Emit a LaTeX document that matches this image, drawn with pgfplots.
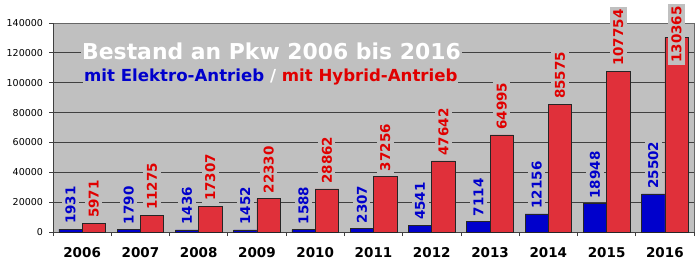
\documentclass[border=0pt]{standalone}
\usepackage{fontspec}
\setmainfont{DejaVu Sans}
\usepackage{pgfplots}
\pgfplotsset{compat=1.18}
\usepackage{pgfplotstable}
\definecolor{bg}{HTML}{C0C0C0}
\definecolor{barblue}{HTML}{0000CC}
\definecolor{barred}{HTML}{E0303A}
\definecolor{txtred}{HTML}{E00000}
\definecolor{txtblue}{HTML}{0000CC}
\definecolor{gridc}{HTML}{404040}
\pgfplotstableread{
x blue red dyb dyr
0 1931 5971 3 3
1 1790 11275 3 3
2 1436 17307 3 3
3 1452 22330 3 3
4 1588 28862 3 3
5 2307 37256 3 3
6 4541 47642 3 3
7 7114 64995 3 3
8 12156 85575 3 3
9 18948 107754 3 3
10 25502 130365 3 -27.6
}\data
\begin{document}
\begin{tikzpicture}
\begin{axis}[
  scale only axis, width=641pt, height=209pt,
  ymin=0, ymax=140000, xmin=-0.5, xmax=10.5,
  ybar=0pt, bar width=23.3pt,
  clip=false,
  axis background/.style={fill=bg, draw=gray!80!black},
  axis x line*=bottom, axis y line*=left,
  axis line style={gridc, line width=0.8pt, -},
  ytick={0,20000,...,120000},
  extra y ticks={140000},
  extra y tick style={grid=none},
  scaled y ticks=false,
  /pgf/number format/.cd, fixed, 1000 sep={}, assume math mode=true,
  /pgfplots/.cd,
  yticklabel style={font=\fontsize{9.5}{10}\selectfont, xshift=-3pt},
  ymajorgrids, major grid style={gridc, line width=0.8pt},
  tick align=outside, major tick length=3.5pt, minor tick length=4pt,
  tick style={gridc, line width=0.8pt},
  xtick={0,...,10},
  xticklabels={2006,2007,2008,2009,2010,2011,2012,2013,2014,2015,2016},
  every major x tick/.style={draw=none},
  minor xtick={-0.5,0.5,...,10.5},
  xticklabel style={font=\bfseries\fontsize{13.5}{14}\selectfont, yshift=-8pt},
  point meta=explicit symbolic,
  nodes near coords={\rotatebox{90}{\pgfplotspointmeta}},
  every node near coord/.append style={yshift=\dy pt, anchor=south, fill=bg,
    inner xsep=3.5pt, inner ysep=2pt, font=\bfseries\fontsize{13.5}{14}\selectfont},
]
\addplot[fill=barblue, draw=black!85, line width=0.6pt,
  visualization depends on={\thisrow{dyb} \as \dy},
  every node near coord/.append style={text=txtblue}]
  table[x=x, y=blue, meta=blue] {\data};
\addplot[fill=barred, draw=black!85, line width=0.6pt,
  visualization depends on={\thisrow{dyr} \as \dy},
  every node near coord/.append style={text=txtred}]
  table[x=x, y=red, meta=red] {\data};
\node[anchor=base west, fill=bg, inner sep=1pt, text=white, font=\bfseries\fontsize{21.9}{22}\selectfont]
  at (rel axis cs:0.0437,0.823) {Bestand an Pkw 2006 bis 2016};
\node[anchor=base west, fill=bg, inner sep=1pt, font=\bfseries\fontsize{16.6}{17}\selectfont]
  at (rel axis cs:0.0468,0.719) {\textcolor{txtblue}{mit Elektro-Antrieb} \textcolor{white}{/} \textcolor{txtred}{mit Hybrid-Antrieb}};
\end{axis}
\pgfresetboundingbox
\path[use as bounding box] (-53pt,-37pt) rectangle (647pt,232pt);
\end{tikzpicture}
\end{document}
